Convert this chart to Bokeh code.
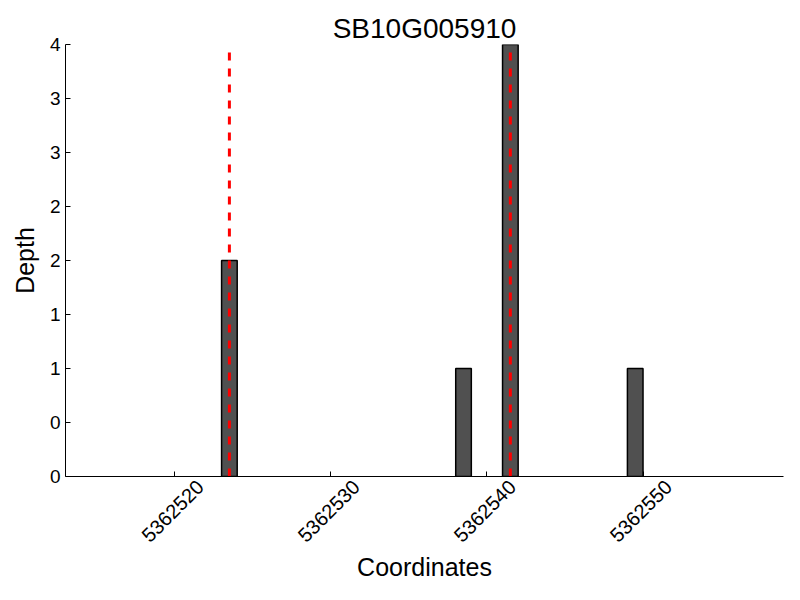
from math import pi
from bokeh.plotting import figure
from bokeh.models import (ColumnDataSource, FixedTicker, Range1d, LinearAxis)
from bokeh.embed import file_html
from bokeh.resources import INLINE

# ---- data ----
title_text = "SB10G005910"
bar_left = [5362523, 5362538, 5362541, 5362549]
depth = [2, 1, 4, 1]
bar_width = 1
variant_x = [5362523.5, 5362541.5]
variant_top = 3.96
x_ticks = [5362520, 5362530, 5362540, 5362550]
x_tick_labels = ["5362520", "5362530", "5362540", "5362550"]
y_ticks = [0, 0.5, 1, 1.5, 2, 2.5, 3, 3.5, 4]
y_tick_labels = ["0", "0", "1", "1", "2", "2", "3", "3", "4"]
x_min, x_max = 5362513, 5362559
y_min, y_max = 0, 4

# style: rotated tick labels are centred under their tick (matplotlib-like);
# Bokeh anchors rotated labels at their end, so the label axis is nudged.
LABEL_NUDGE = 1.63

FONT = "Liberation Sans"

p = figure(width=800, height=600,
           min_border_left=65, min_border_right=17, min_border_top=44,
           min_border_bottom=124,
           x_range=Range1d(x_min, x_max), y_range=Range1d(y_min, y_max),
           output_backend="svg", toolbar_location=None,
           title=title_text)
p.outline_line_color = None
p.xgrid.visible = False
p.ygrid.visible = False
p.background_fill_color = "white"
p.border_fill_color = "white"

p.title.text_font = FONT
p.title.text_font_size = "28px"
p.title.text_font_style = "normal"
p.title.align = "center"
p.title.standoff = 2
p.title.text_color = "black"

bars = ColumnDataSource(dict(left=bar_left,
                             right=[b + bar_width for b in bar_left],
                             top=depth))
p.quad(left="left", right="right", bottom=0, top="top", source=bars,
       fill_color="#505050", line_color="black", line_width=1.5)

p.segment(x0=variant_x, y0=[0] * len(variant_x), x1=variant_x,
          y1=[variant_top] * len(variant_x),
          line_color="red", line_width=3, line_dash="8 8")

# y axis
ya = p.yaxis[0]
ya.ticker = FixedTicker(ticks=y_ticks)
ya.major_label_overrides = {t: l for t, l in zip(y_ticks, y_tick_labels)}
ya.minor_tick_line_color = None
ya.major_tick_in = 5
ya.major_tick_out = 0
ya.major_label_standoff = 5
ya.major_label_text_font = FONT
ya.major_label_text_font_size = "19px"
ya.major_label_text_color = "black"
ya.axis_label = "Depth"
ya.axis_label_text_font = FONT
ya.axis_label_text_font_size = "25px"
ya.axis_label_text_font_style = "normal"
ya.axis_label_text_color = "black"
ya.axis_label_standoff = 8
ya.axis_line_color = "black"
ya.major_tick_line_color = "black"

# x axis: line + tick marks
xa = p.xaxis[0]
xa.ticker = FixedTicker(ticks=x_ticks)
xa.minor_tick_line_color = None
xa.major_tick_in = 5
xa.major_tick_out = 0
xa.major_label_text_color = None
xa.major_label_text_font_size = "0px"
xa.major_label_standoff = 0
xa.axis_line_color = "black"
xa.major_tick_line_color = "black"

# x axis: rotated tick labels + axis title
label_pos = [t + LABEL_NUDGE for t in x_ticks]
xl = LinearAxis(ticker=FixedTicker(ticks=label_pos),
                major_label_overrides={lp: l for lp, l in zip(label_pos, x_tick_labels)},
                major_label_orientation=pi / 4,
                axis_line_color=None, major_tick_line_color=None,
                minor_tick_line_color=None,
                major_tick_in=0, major_tick_out=0,
                major_label_standoff=7,
                major_label_text_font=FONT, major_label_text_font_size="20px",
                major_label_text_color="black",
                axis_label="Coordinates", axis_label_text_font=FONT,
                axis_label_text_font_size="25px",
                axis_label_text_font_style="normal",
                axis_label_text_color="black", axis_label_standoff=2)
p.add_layout(xl, "below")

open("out.html", "w").write(file_html(p, INLINE))
